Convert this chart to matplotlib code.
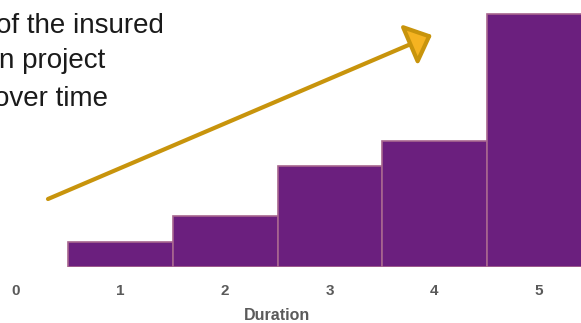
import matplotlib.pyplot as plt

plt.rcParams['font.family'] = ['Liberation Sans', 'DejaVu Sans']

# bar chart data
durations = [1, 2, 3, 4, 5]
exposure = [1, 2, 4, 5, 10]
tick_values = [0, 1, 2, 3, 4, 5]
caption_lines = ['of the insured', 'n project', 'over time']

bar_color = '#6b1f7e'
edge_color = '#a8668f'
label_color = '#5a5a5a'

W, H = 581, 323
fig = plt.figure(figsize=(W / 100, H / 100), dpi=100)
ax = fig.add_axes([0, (H - 267) / H, 1, 267 / H])

ax.bar(durations, exposure, width=1.0, color=bar_color,
       edgecolor=edge_color, linewidth=1.2)

ax.set_xlim(-16 / 104.6, (W - 16) / 104.6)
ax.set_ylim(0, 10 * 267 / 253)

ax.set_xticks(tick_values)
ax.set_xticklabels([str(t) for t in tick_values], fontsize=11,
                   fontweight='bold', color=label_color)
ax.tick_params(axis='x', length=0, pad=12)
ax.set_yticks([])
for s in ax.spines.values():
    s.set_visible(False)

# x-axis title
fig.text(277 / W, 1 - 315 / H, 'Duration', ha='center', va='center',
         fontsize=11.5, fontweight='bold', color=label_color)

# trend arrow (gold shaft, short wide yellow head)
ax.annotate('', xy=(432 / W, (267 - 35) / 267),
            xytext=(48 / W, (267 - 199) / 267),
            xycoords='axes fraction', textcoords='axes fraction',
            arrowprops=dict(arrowstyle='-|>,head_length=1.05,head_width=0.95',
                            mutation_scale=14, edgecolor='#c8940c',
                            facecolor='#f5b321', lw=3.0,
                            shrinkA=0, shrinkB=0, joinstyle='round'))

# caption text in the upper left
caption_x = [-4, -1, -6]
caption_y = [33, 68, 106]
for line, x, y in zip(caption_lines, caption_x, caption_y):
    fig.text(x / W, 1 - y / H, line, ha='left', va='baseline',
             fontsize=20, color='#1a1a1a')

fig.savefig('out.png', dpi=100)
